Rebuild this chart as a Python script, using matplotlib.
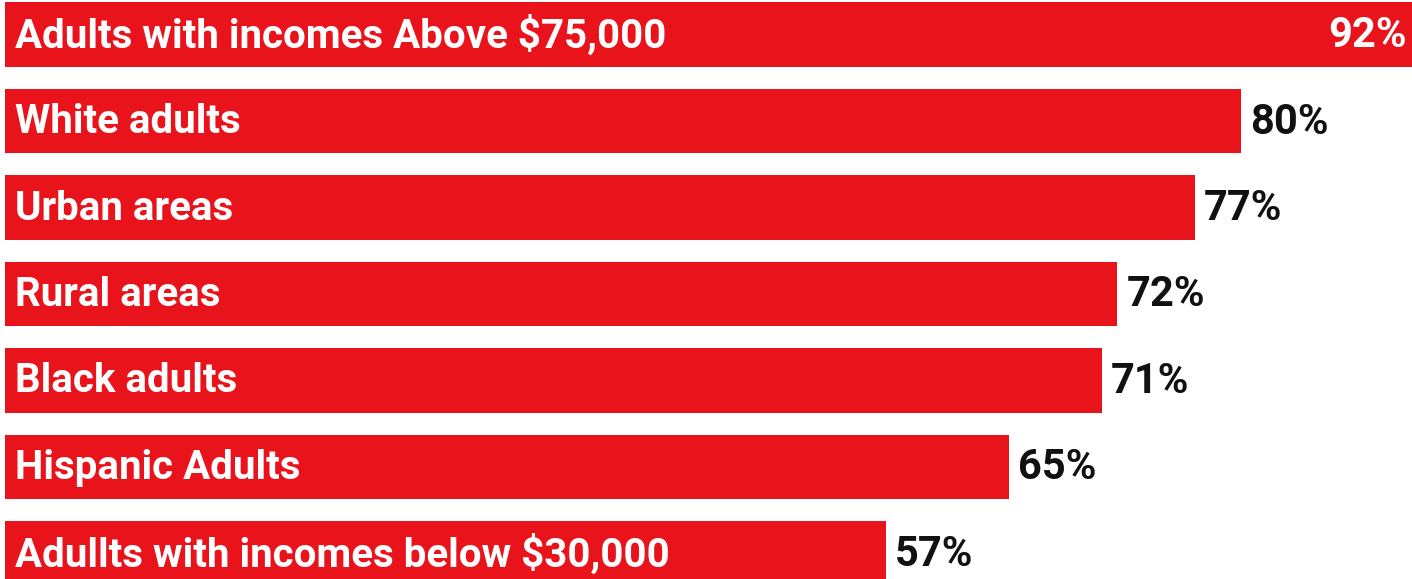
import matplotlib
matplotlib.use("Agg")
import matplotlib.pyplot as plt
from matplotlib.transforms import offset_copy

categories = [
    "Adults with incomes Above $75,000",
    "White adults",
    "Urban areas",
    "Rural areas",
    "Black adults",
    "Hispanic Adults",
    "Adullts with incomes below $30,000",
]
values = [92, 80, 77, 72, 71, 65, 57]
value_labels = ["92%", "80%", "77%", "72%", "71%", "65%", "57%"]

RED = "#E9131C"
plt.rcParams["font.family"] = ["Roboto", "DejaVu Sans"]

fig = plt.figure(figsize=(14.12, 5.79), dpi=100)
ax = fig.add_axes([0, 0, 1, 1])
ypos = list(range(len(values)))
ax.barh(ypos, values, height=0.75, color=RED, left=0)
ax.set_xlim(-0.324, 91.07)
ax.set_ylim(6.295, -0.399)
ax.axis("off")

for y, cat, v, lab in zip(ypos, categories, values, value_labels):
    t_in = offset_copy(ax.transData, fig=fig, x=10, y=-1, units="dots")
    ax.text(0, y, cat, transform=t_in, color="white", fontsize=29,
            fontweight="bold", va="center", ha="left")
    if v >= 90:
        t_v = offset_copy(ax.transAxes, fig=fig, x=-5, y=-1, units="dots")
        ax.text(1.0, 1 - (34.5 / 579), lab, transform=t_v, color="white",
                fontsize=30, fontweight="bold", va="center", ha="right")
    else:
        t_v = offset_copy(ax.transData, fig=fig, x=9, y=-1, units="dots")
        ax.text(v, y, lab, transform=t_v, color="#111111", fontsize=30,
                fontweight="bold", va="center", ha="left")

fig.savefig("out.png", dpi=100)
